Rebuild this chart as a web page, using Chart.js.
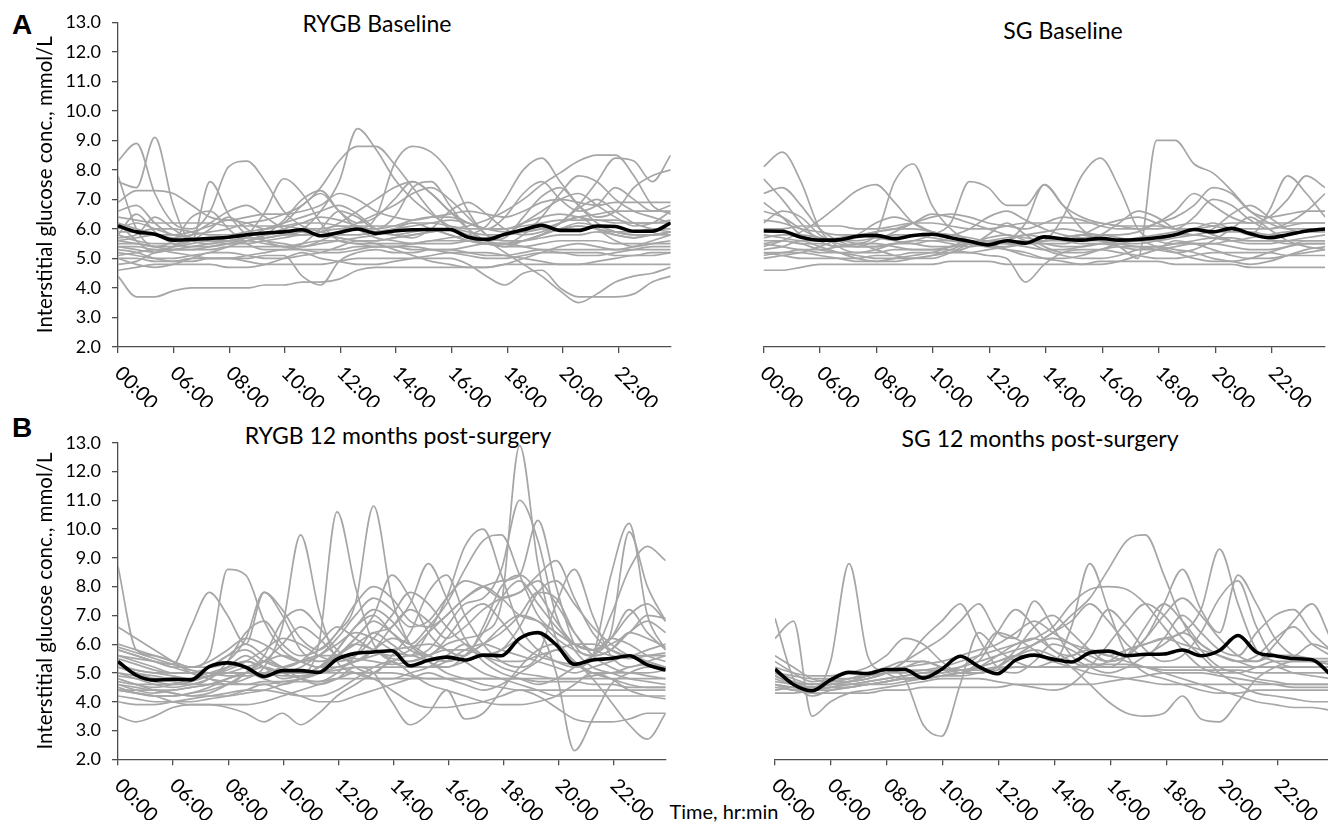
<!DOCTYPE html>
<html>
<head>
<meta charset="utf-8">
<title>Interstitial glucose, RYGB vs SG</title>
<script src="https://cdn.jsdelivr.net/npm/chart.js@4.4.1/dist/chart.umd.min.js"></script>
<style>
    body { margin: 0; width: 1328px; height: 822px; overflow: hidden; background: #fff; position: relative; font-family: Lato, sans-serif; color: #000; }
    canvas { position: absolute; }
    .txt { position: absolute; white-space: nowrap; line-height: 1; transform: translate(-50%, -50%); }
    .title { font-size: 23px; }
    .panel-letter { font-family: 'Liberation Sans', Arial, sans-serif; font-weight: bold; font-size: 28px; }
</style>
</head>
<body>
<div class="txt panel-letter" style="left:22px; top:25px">A</div>
<div class="txt panel-letter" style="left:22px; top:428px">B</div>
<div class="txt title" style="left:377px; top:23px">RYGB Baseline</div>
<div class="txt title" style="left:1063px; top:30px">SG Baseline</div>
<div class="txt title" style="left:398px; top:435px">RYGB 12 months post-surgery</div>
<div class="txt title" style="left:1040px; top:438px">SG 12 months post-surgery</div>
<div class="txt" style="left:724px; top:811px; font-size:20px">Time, hr:min</div>

<canvas id="rygbBase" width="680" height="407" style="left:0; top:0"></canvas>
<canvas id="sgBase" width="628" height="407" style="left:700px; top:0"></canvas>
<canvas id="rygbPost" width="680" height="420" style="left:0; top:400px"></canvas>
<canvas id="sgPost" width="632" height="420" style="left:700px; top:400px"></canvas>

<script>
const tickLabels = ['00:00', '06:00', '08:00', '10:00', '12:00', '14:00', '16:00', '18:00', '20:00', '22:00'];
const dayEnd = 9.94;

// A: RYGB baseline
const rygbBaseMean = [6.1,5.9,5.82,5.62,5.64, 5.68,5.72,5.8,5.86,5.9, 5.97,5.77,5.88,6.0,5.85, 5.93,5.97,5.98,5.98,5.72, 5.64,5.82,5.97,6.12,5.95, 5.95,6.1,6.08,5.92,5.92, 6.2];
const rygbBaseSubjects = [
    [5.8,5.6,5.5,5.5,5.6, 5.6,5.7,5.8,5.8,5.9, 6.0,6.6,7.6,9.4,8.7, 7.7,7.0,6.5,6.1,5.9, 5.8,5.8,5.9,6.0,6.0, 6.1,6.0,5.9,5.9,6.0, 6.0],
    [6.2,6.0,5.8,5.7,5.8, 5.9,6.0,6.2,6.3,6.5, 6.8,7.4,8.3,8.8,8.8, 8.2,7.4,6.6,6.0,5.7, 5.5,5.4,5.6,5.8,6.0, 6.2,6.1,5.9,5.8,5.8, 5.9],
    [5.6,5.5,5.4,5.4,5.5, 5.6,5.6,5.7,5.7,5.8, 5.8,5.9,6.0,6.0,6.4, 8.2,8.8,8.6,7.9,6.6, 5.8,5.6,5.6,5.7,5.8, 5.8,5.9,5.8,5.7,5.8, 5.8],
    [8.3,8.9,7.2,6.2,6.0, 6.6,8.1,8.3,7.6,6.6, 6.1,5.9,5.8,5.8,5.9, 6.0,6.1,6.2,6.3,6.2, 6.0,6.0,6.2,6.4,6.5, 6.4,6.3,6.3,6.2,6.2, 6.3],
    [7.6,7.4,9.1,6.8,5.6, 7.6,6.5,5.8,5.6,5.5, 5.4,5.5,5.6,5.7,5.8, 6.0,6.2,6.0,5.8,5.6, 5.5,5.5,5.6,5.8,6.0, 6.1,6.0,5.8,5.7,5.8, 5.9],
    [5.4,5.3,5.2,5.3,5.4, 5.5,5.6,5.8,6.6,7.7, 7.2,6.2,5.6,5.5,5.4, 5.4,5.5,5.6,5.7,5.8, 6.1,7.0,8.0,8.4,7.6, 6.8,6.2,5.9,5.8,5.8, 5.9],
    [4.4,3.7,3.7,3.9,4.0, 4.0,4.0,4.0,4.1,4.1, 4.2,4.2,4.3,4.6,4.7, 4.7,4.7,4.7,4.7,4.7, 4.7,4.8,4.8,4.8,4.8, 4.8,4.8,4.8,4.8,4.8, 4.8],
    [5.3,5.2,5.0,4.9,4.9, 5.0,5.0,5.0,5.1,5.1, 4.4,4.1,4.9,5.2,5.3, 5.2,5.2,5.3,5.3,5.2, 5.1,5.1,5.2,5.3,5.2, 5.2,5.2,5.1,5.1,5.2, 5.2],
    [5.6,5.7,5.8,5.8,5.7, 5.6,5.5,5.6,5.7,5.8, 5.9,5.8,5.7,5.6,5.6, 5.7,5.8,5.9,6.0,5.8, 5.6,5.2,4.8,4.4,3.9, 3.5,3.8,4.2,4.4,4.5, 4.7],
    [5.0,5.0,4.9,4.9,5.0, 5.0,5.0,4.9,4.8,4.8, 4.8,4.8,4.9,5.0,5.0, 5.0,5.0,5.0,5.0,4.8, 4.4,4.1,4.5,4.6,4.0, 3.7,3.7,3.7,3.8,4.2, 4.4],
    [5.5,5.5,5.4,5.3,5.3, 5.4,5.5,5.5,5.6,5.7, 5.8,5.8,5.7,5.6,5.6, 5.7,5.8,5.9,6.0,6.1, 6.3,6.6,7.0,7.5,7.9, 8.3,8.5,8.5,7.8,6.8, 6.5],
    [6.0,6.2,6.0,5.8,5.7, 5.6,5.6,5.6,5.8,6.0, 6.2,6.4,6.3,6.1,5.9, 5.8,5.9,6.0,5.8,5.6, 5.5,5.5,5.6,5.8,6.2, 6.8,7.6,8.4,8.3,7.6, 8.5],
    [6.9,7.3,7.3,7.2,6.8, 6.4,6.3,6.4,6.5,6.5, 6.6,6.8,7.2,7.0,6.6, 6.4,6.3,6.4,6.5,6.6, 6.5,6.4,6.6,6.9,7.0, 6.9,6.8,6.9,6.9,6.9, 6.9],
    [5.2,5.1,5.0,5.0,5.1, 5.2,5.4,5.6,5.8,6.3, 7.0,7.3,6.6,6.0,5.7, 5.6,5.5,5.5,5.5,5.6, 5.7,5.8,6.2,6.6,7.0, 7.2,6.8,6.4,6.1,6.2, 6.6],
    [5.1,5.2,5.3,5.2,5.1, 5.0,5.0,5.1,5.2,5.3, 5.3,5.3,5.3,5.4,5.4, 5.4,5.3,5.3,5.3,5.4, 5.5,5.5,5.4,5.3,5.3, 5.3,5.3,5.3,5.3,5.3, 5.3],
    [4.8,4.9,5.2,5.4,5.6, 6.0,6.4,6.0,5.6,5.4, 5.4,5.6,5.9,6.2,6.5, 6.8,7.2,7.4,7.0,6.4, 5.8,5.6,5.6,5.8,6.2, 6.4,6.0,5.6,5.4,5.5, 5.6],
    [7.8,6.0,5.4,5.6,6.4, 6.6,6.0,5.5,5.3,5.3, 5.5,6.0,6.6,6.4,6.0, 6.4,7.4,7.6,6.8,6.0, 5.6,5.7,6.4,7.1,7.4, 6.8,6.4,6.6,7.4,7.8, 8.0],
    [6.4,6.3,6.2,6.2,6.2, 6.2,6.1,6.1,6.1,6.1, 6.0,6.0,6.1,6.1,6.1, 6.1,6.2,6.2,6.1,6.0, 6.0,6.0,6.1,6.2,6.3, 6.3,6.3,6.2,6.2,6.2, 6.2],
    [4.6,4.7,4.8,4.8,4.8, 4.8,4.7,4.7,4.8,5.0, 5.2,5.0,4.9,4.8,4.8, 4.9,5.0,5.1,5.2,5.2, 5.2,5.1,5.0,4.9,4.8, 4.8,4.9,5.0,5.1,5.1, 5.2],
    [5.8,6.5,5.9,5.5,5.4, 5.4,5.5,5.7,6.0,6.2, 6.4,6.6,6.8,6.5,6.0, 5.8,5.7,6.0,6.6,6.9, 6.5,6.0,5.8,5.9,6.2, 6.7,7.0,6.6,6.2,6.0, 5.9],
    [5.9,5.9,6.0,6.0,5.9, 5.8,5.8,5.9,6.0,6.1, 6.2,6.2,6.1,6.0,6.0, 6.1,6.3,6.4,6.4,6.2, 6.0,5.9,5.9,6.0,6.2, 6.4,6.5,6.6,6.6,6.6, 6.6],
    [5.4,5.4,5.3,5.3,5.3, 5.3,5.4,5.4,5.4,5.4, 5.5,5.6,5.6,5.5,5.5, 5.5,5.5,5.6,5.6,5.6, 5.5,5.4,5.4,5.5,5.6, 5.6,5.6,5.5,5.5,5.5, 5.5],
    [6.6,6.8,6.2,5.8,5.9, 6.1,6.3,6.2,6.0,6.2, 6.8,7.2,6.6,6.2,6.4, 7.0,7.6,7.2,6.6,6.2, 6.0,6.4,7.2,7.6,7.0, 6.6,6.8,7.4,7.0,6.6, 6.8],
    [5.0,4.8,4.7,4.8,5.0, 5.2,5.2,5.1,5.0,5.0, 5.1,5.2,5.4,5.6,5.5, 5.3,5.1,4.9,4.8,4.7, 4.7,4.8,5.0,5.2,5.4, 5.5,5.4,5.3,5.4,5.6, 5.8],
    [6.2,5.6,5.2,5.4,5.8, 6.2,6.6,6.8,6.4,6.0, 5.8,5.9,6.2,6.6,7.0, 7.4,7.6,7.2,6.6,6.0, 5.6,5.5,5.8,6.4,7.2, 7.8,7.6,7.0,6.6,6.4, 6.2],
    [5.7,5.8,6.4,6.0,5.6, 5.5,5.6,5.6,5.5,5.4, 5.3,5.2,5.2,5.3,5.4, 5.4,5.4,5.3,5.2,5.1, 5.0,5.0,5.1,5.2,5.2, 5.1,5.1,5.2,5.3,5.4, 5.4]
];

// A: SG baseline
const sgBaseMean = [5.93,5.92,5.72,5.62,5.63, 5.75,5.78,5.67,5.78,5.82, 5.7,5.58,5.46,5.6,5.52, 5.73,5.66,5.62,5.68,5.62, 5.64,5.7,5.8,5.98,5.9, 6.02,5.84,5.7,5.8,5.93, 6.0];
const sgBaseSubjects = [
    [8.1,8.6,7.6,6.0,5.4, 5.2,5.3,5.5,5.6,5.6, 5.5,5.4,5.5,5.6,5.8, 5.7,5.6,5.5,5.5,5.6, 5.7,5.8,5.9,6.0,5.8, 5.6,5.5,5.5,5.6,5.7, 5.8],
    [5.4,5.6,5.9,6.3,6.8, 7.3,7.5,6.9,6.2,5.9, 5.8,5.7,5.6,5.6,5.5, 5.5,5.5,5.6,5.6,5.5, 5.4,5.4,5.5,5.6,5.7, 5.7,5.6,5.6,5.6,5.6, 5.6],
    [7.7,7.0,6.2,5.6,5.4, 5.5,5.8,7.6,8.2,6.8, 6.0,5.6,5.5,5.5,5.6, 5.5,5.4,5.4,5.5,5.6, 5.6,5.7,5.8,5.8,5.7, 5.6,5.7,5.8,5.9,5.9, 6.0],
    [6.2,6.6,6.4,5.8,5.5, 5.4,5.4,5.5,5.6,5.8, 6.2,7.6,7.4,6.8,6.8, 7.5,6.8,6.4,6.2,6.1, 6.0,6.0,6.1,6.2,6.1, 6.0,6.0,6.0,6.1,6.2, 6.2],
    [5.2,5.2,5.3,5.2,5.2, 5.2,5.2,5.3,5.3,5.3, 5.3,5.2,5.3,5.4,5.5, 5.6,6.4,7.8,8.4,7.4, 6.0,5.6,5.5,5.5,5.5, 5.6,5.6,5.6,5.5,5.5, 5.5],
    [5.6,5.6,5.5,5.5,5.4, 5.4,5.4,5.5,5.5,5.6, 5.6,5.5,5.5,5.6,5.6, 5.6,5.7,5.8,5.6,5.4, 5.0,9.0,9.0,8.2,7.9, 7.3,6.6,6.2,6.0,6.0, 6.0],
    [6.9,6.4,5.8,5.6,5.6, 5.7,5.9,6.0,6.0,5.9, 5.7,5.6,5.5,5.6,6.2, 7.5,6.8,6.0,5.6,5.5, 5.5,5.6,5.8,6.0,6.2, 6.0,5.8,6.6,7.8,7.2, 6.4],
    [5.2,5.1,5.0,5.0,5.0, 5.0,5.1,5.1,5.2,5.2, 5.2,5.2,5.1,5.0,4.2, 4.8,5.2,5.3,5.3,5.2, 5.1,5.0,5.0,5.1,5.2, 5.2,5.2,5.2,5.1,5.1, 5.1],
    [4.6,4.6,4.7,4.8,4.8, 4.8,4.8,4.8,4.8,4.8, 4.9,4.9,4.9,4.8,4.8, 4.8,4.8,4.8,4.9,4.9, 4.9,4.9,4.8,4.8,4.8, 4.8,4.7,4.7,4.7,4.7, 4.7],
    [5.8,5.7,5.6,5.6,5.7, 5.8,5.7,5.6,5.5,5.4, 5.4,5.5,5.6,5.7,5.8, 5.9,6.0,5.9,5.8,5.8, 5.9,6.2,6.6,7.2,6.8, 6.4,6.2,6.4,7.0,7.8, 7.4],
    [6.3,6.2,6.0,5.9,5.8, 5.8,5.9,6.0,6.2,6.4, 6.5,6.4,6.2,6.1,6.0, 6.2,6.4,6.3,6.1,6.0, 6.0,6.2,6.4,6.8,7.4, 7.2,6.6,6.4,6.5,6.6, 6.6],
    [5.0,5.1,5.2,5.4,5.6, 5.5,5.3,5.1,5.0,5.0, 5.2,5.5,5.7,5.8,5.6, 5.3,5.1,5.0,5.0,5.1, 5.3,5.4,5.3,5.2,5.0, 4.9,4.8,4.9,5.1,5.3, 5.4],
    [6.0,6.0,6.1,6.1,6.1, 6.0,6.0,6.1,6.2,6.2, 6.1,6.0,6.0,6.1,6.2, 6.2,6.2,6.2,6.2,6.1, 6.1,6.1,6.0,6.0,6.1, 6.2,6.2,6.2,6.2,6.2, 6.2],
    [5.3,5.4,5.6,5.4,5.2, 5.0,4.9,4.9,5.0,5.1, 5.2,5.4,5.8,6.2,5.8, 5.4,5.2,5.2,5.3,5.4, 5.4,5.3,5.2,5.3,5.6, 6.0,6.4,6.0,5.6,5.4, 5.3],
    [7.2,7.4,6.8,6.0,5.6, 5.4,5.6,5.9,6.2,6.5, 6.4,6.2,6.0,5.8,5.7, 5.6,5.6,5.8,6.1,6.3, 6.4,6.2,6.0,6.4,7.0, 6.8,6.3,6.0,6.2,6.6, 7.2],
    [5.5,5.6,5.5,5.3,5.2, 5.1,5.0,5.0,5.0,5.1, 5.3,5.5,5.4,5.3,5.2, 5.0,4.9,4.8,4.8,4.9, 5.1,5.3,5.6,5.5,5.3, 5.1,5.0,5.0,5.1,5.2, 5.3],
    [5.7,5.8,5.8,5.7,5.6, 5.6,5.7,5.8,5.8,5.7, 5.6,5.5,5.4,5.4,5.5, 5.6,5.7,5.8,5.8,5.7, 5.6,5.6,5.7,5.8,5.9, 5.9,5.9,5.8,5.8,5.9, 5.9],
    [5.1,5.2,5.2,5.1,5.0, 4.9,4.9,5.0,5.1,5.2, 5.4,5.6,5.5,5.3,5.1, 5.0,5.0,5.1,5.3,5.5, 5.6,5.4,5.2,5.0,4.9, 4.9,5.0,5.2,5.4,5.6, 5.6],
    [6.6,6.4,6.0,5.7,5.6, 5.8,6.2,6.4,6.2,5.9, 5.8,6.0,6.4,6.6,6.3, 6.0,5.8,5.7,5.8,6.2, 6.6,6.4,6.0,5.8,6.0, 6.5,6.8,6.4,6.0,5.9, 6.0],
    [5.5,5.4,5.3,5.3,5.4, 5.5,5.5,5.4,5.3,5.3, 5.4,5.5,5.6,5.5,5.4, 5.3,5.3,5.4,5.5,5.4, 5.3,5.3,5.4,5.5,5.5, 5.4,5.3,5.3,5.4,5.5, 5.5]
];

// B: RYGB 12 months post-surgery
const rygbPostMean = [5.4,4.92,4.75,4.78,4.76, 5.22,5.35,5.2,4.88,5.08, 5.08,5.02,5.48,5.68,5.73, 5.77,5.25,5.44,5.55,5.45, 5.62,5.6,6.2,6.4,5.98, 5.3,5.45,5.5,5.6,5.28, 5.1];
const rygbPostSubjects = [
    [5.0,4.8,4.6,4.5,4.6, 4.8,5.2,5.6,5.2,4.8, 4.9,5.0,5.6,6.0,5.8, 5.5,5.4,5.6,6.0,6.2, 6.4,7.4,12.9,8.8,6.2, 5.4,5.0,5.0,5.2,5.3, 5.2],
    [4.6,4.4,4.3,4.4,4.5, 4.6,4.8,5.0,5.2,5.0, 4.8,4.7,5.0,5.6,6.4, 6.0,5.6,5.8,6.6,7.4, 7.6,8.6,11.0,9.6,7.0, 5.8,5.2,5.0,4.8,4.7, 4.6],
    [5.6,5.4,5.2,5.0,5.0, 5.2,5.6,5.8,5.4,5.2, 5.4,6.0,6.6,6.2,5.8, 5.6,5.8,6.4,7.0,7.6, 8.0,8.2,8.4,10.3,8.0, 6.0,5.6,5.8,6.4,6.8, 6.4],
    [4.8,4.6,4.5,4.6,4.8, 5.0,5.2,5.4,5.2,5.0, 5.0,6.0,10.6,8.0,6.0, 5.4,5.2,5.2,5.4,5.8, 6.0,5.8,5.6,5.4,5.2, 5.0,5.2,5.4,5.6,5.4, 5.2],
    [5.2,5.0,4.8,4.7,4.6, 4.8,5.4,6.4,6.8,6.0, 5.6,5.8,6.4,7.4,10.8, 7.6,6.0,5.6,5.4,5.6, 6.0,6.6,7.0,6.8,6.2, 5.8,5.6,5.8,6.4,6.2, 5.9],
    [4.5,4.3,4.2,4.2,4.3, 4.4,4.6,4.8,5.2,6.6, 9.8,7.2,5.4,5.0,4.8, 4.8,5.0,5.2,5.6,6.0, 5.6,5.2,5.0,4.9,4.8, 4.8,4.9,5.0,5.0,4.9, 4.8],
    [4.9,4.8,4.7,4.6,4.7, 4.9,5.2,5.4,5.2,5.0, 5.2,5.6,6.0,6.4,6.2, 5.8,5.6,6.4,7.6,9.4, 10.0,8.4,6.6,5.8,5.4, 5.2,5.6,8.4,10.2,7.0, 5.8],
    [5.3,5.1,5.0,4.9,4.8, 4.9,5.0,5.2,5.4,5.6, 5.4,5.2,5.6,6.2,6.8, 6.4,6.0,6.6,7.4,8.6, 9.6,9.8,8.4,7.0,6.4, 6.0,5.8,5.6,5.5,5.6, 5.7],
    [5.8,5.6,5.4,5.2,5.2, 5.4,5.8,6.2,6.0,5.6, 5.4,5.6,6.2,7.0,7.6, 7.2,6.6,6.8,7.6,8.2, 8.0,7.6,7.8,8.2,7.4, 6.4,5.8,7.0,8.6,9.4, 8.9],
    [4.4,4.3,4.2,4.2,4.3, 4.5,4.8,5.0,4.8,4.6, 4.8,5.2,5.6,6.0,6.4, 6.6,7.4,8.8,7.6,6.2, 5.4,5.0,4.8,4.6,4.8, 5.2,5.6,6.4,9.9,8.0, 6.8],
    [4.6,4.5,4.4,4.4,4.5, 4.6,4.8,5.0,5.4,6.0, 6.6,6.2,5.6,5.4,5.8, 6.6,7.2,6.8,6.2,6.6, 7.2,7.6,7.8,8.4,8.9, 7.6,6.4,5.8,5.6,5.8, 6.0],
    [5.0,4.9,4.8,4.8,4.8, 4.9,5.0,5.0,5.0,4.9, 4.9,5.0,5.1,5.2,5.2, 5.2,5.2,5.2,5.2,5.4, 5.6,5.8,6.2,6.4,5.0, 2.3,3.4,4.6,5.0,5.2, 5.2],
    [4.2,4.1,4.0,4.0,4.0, 4.1,4.2,4.4,4.6,4.4, 4.2,4.0,4.0,4.2,4.4, 4.6,4.8,5.0,4.8,4.6, 4.4,4.6,5.0,5.4,5.8, 5.4,4.8,4.0,3.2,2.7, 3.6],
    [4.8,4.6,4.4,4.3,4.2, 4.3,4.6,5.0,5.4,5.2, 4.8,4.6,4.8,5.2,5.0, 4.0,3.2,3.6,4.4,3.4, 3.6,4.4,5.2,5.8,6.0, 5.4,5.0,4.8,4.6,4.5, 4.5],
    [4.4,4.3,4.2,4.0,3.9, 3.9,3.8,3.6,3.3,3.6, 3.2,3.6,4.2,4.6,5.0, 5.4,5.6,5.4,5.0,4.8, 4.6,4.5,4.4,4.4,4.4, 4.4,4.4,4.4,4.4,4.4, 4.4],
    [3.5,3.3,3.5,3.8,3.9, 3.9,3.9,3.9,4.0,4.2, 4.4,4.6,4.8,5.0,4.8, 4.4,4.0,3.8,3.8,3.9, 4.0,4.2,4.4,4.2,3.8, 3.4,3.3,3.3,3.4,3.6, 3.6],
    [8.7,5.8,5.6,5.4,5.2, 5.2,5.4,6.2,7.8,7.2, 6.2,5.8,6.4,7.4,8.0, 7.6,6.8,6.6,7.0,7.6, 8.0,7.6,7.0,6.8,6.4, 6.0,5.8,6.0,6.4,7.0, 6.9],
    [6.0,5.8,5.6,5.4,5.2, 5.6,8.6,8.4,6.8,5.8, 5.4,5.2,5.2,5.4,5.8, 6.2,6.0,5.6,5.4,5.6, 6.0,6.4,7.0,7.8,7.6, 6.4,5.6,5.2,5.0,5.0, 5.1],
    [5.6,5.5,5.4,5.3,6.6, 7.8,7.0,6.0,7.8,7.0, 5.8,5.4,5.6,6.2,7.0, 8.4,7.6,6.4,5.8,5.6, 6.6,8.0,8.4,7.8,6.8, 6.0,5.8,6.2,7.2,6.4, 5.8],
    [5.2,5.1,5.0,5.0,5.0, 5.0,5.0,5.0,5.0,5.0, 5.0,5.0,5.0,5.0,5.0, 5.0,4.9,4.8,4.8,4.8, 4.8,4.8,4.8,4.8,4.8, 4.8,4.8,4.8,4.8,4.8, 4.8],
    [5.8,5.6,5.4,5.2,5.0, 4.8,4.7,4.6,4.6,4.7, 4.8,5.0,5.8,6.6,7.2, 6.8,6.0,5.4,5.2,5.6, 6.4,7.6,8.2,7.4,6.6, 6.0,5.8,6.2,7.0,7.4, 6.8],
    [4.4,4.4,4.4,4.3,4.2, 4.2,4.2,4.3,4.4,4.6, 4.8,5.0,5.2,5.4,5.6, 5.8,5.9,6.0,5.8,5.4, 5.0,4.8,4.6,4.4,4.2, 4.2,4.2,4.2,4.2,4.2, 4.2],
    [6.6,6.2,5.8,5.4,5.0, 4.8,4.6,5.0,5.6,6.8, 7.2,6.6,5.8,5.2,5.0, 5.6,6.4,7.8,8.4,7.0, 6.0,5.4,5.2,5.6,7.4, 8.6,7.0,5.6,5.2,5.4, 5.6],
    [4.7,4.6,4.6,4.6,4.6, 4.6,4.6,4.6,4.7,4.7, 4.7,4.7,4.8,4.8,4.8, 4.8,4.8,4.8,4.8,4.8, 4.8,4.8,4.8,4.7,4.7, 4.7,4.6,4.6,4.5,4.5, 4.5],
    [5.5,5.3,5.1,5.0,5.0, 5.2,5.6,6.0,5.6,5.2, 5.0,5.2,5.8,6.6,7.0, 6.4,5.8,5.6,6.2,7.0, 7.4,6.8,6.0,5.6,5.4, 5.3,5.6,6.2,6.0,5.6, 5.4],
    [4.0,3.9,3.9,4.0,4.1, 4.2,4.3,4.4,4.4,4.3, 4.2,4.2,4.4,4.8,5.2, 5.4,5.0,4.6,4.4,4.2, 4.0,3.9,3.9,4.0,4.2, 4.6,5.0,4.8,4.4,4.2, 4.1],
    [5.2,5.0,4.9,4.8,4.8, 4.9,5.1,5.4,5.8,6.2, 6.0,5.6,5.4,5.6,6.2, 7.0,7.8,7.4,6.6,6.0, 5.6,5.8,6.6,7.8,8.2, 7.4,6.6,6.0,5.6,5.4, 5.2],
    [5.9,5.7,5.5,5.3,5.1, 5.0,4.9,4.9,5.0,5.2, 5.4,5.6,5.6,5.5,5.4, 5.3,5.4,5.6,5.8,5.8, 5.6,5.4,5.4,5.6,5.8, 6.0,6.0,5.8,5.6,5.6, 5.6]
];

// B: SG 12 months post-surgery
const sgPostMean = [5.13,4.6,4.38,4.76,5.02, 4.98,5.12,5.12,4.82,5.13, 5.58,5.22,4.97,5.45,5.62, 5.48,5.38,5.7,5.76,5.6, 5.65,5.66,5.8,5.6,5.78, 6.3,5.72,5.6,5.5,5.46, 4.95];
const sgPostSubjects = [
    [4.9,4.6,4.4,5.4,8.8, 5.6,5.0,4.8,4.8,4.9, 5.0,5.0,5.1,5.2,5.2, 5.2,5.2,5.3,5.3,5.3, 5.2,5.2,5.2,5.2,5.2, 5.2,5.2,5.2,5.2,5.2, 5.2],
    [4.6,4.4,4.5,4.6,4.7, 4.9,5.1,4.8,3.2,2.8, 4.6,6.4,5.8,5.4,5.2, 5.4,5.6,5.8,5.6,5.4, 5.2,5.0,4.8,4.6,4.4, 4.2,4.0,3.9,3.8,3.8, 3.7],
    [5.0,4.8,4.6,4.6,4.7, 4.8,5.0,5.4,6.2,6.8, 7.4,6.2,5.2,5.0,5.4, 6.0,5.8,5.4,5.2,5.6, 6.6,7.4,6.8,6.0,5.6, 5.4,5.6,6.2,6.6,6.0, 5.6],
    [4.4,4.5,4.5,4.6,4.7, 4.8,5.0,5.4,5.8,6.2, 6.8,7.4,6.4,6.2,7.5, 6.6,5.6,5.2,5.0,5.2, 5.6,6.0,6.4,6.0,5.6, 5.4,5.4,5.6,5.6,5.5, 5.5],
    [4.3,4.3,4.4,4.5,4.6, 4.6,4.7,4.8,4.9,5.0, 5.2,5.6,6.4,6.2,5.8, 5.4,6.6,8.8,7.2,5.6, 5.0,4.8,4.6,4.4,4.3, 4.3,4.4,4.4,4.4,4.4, 4.4],
    [4.6,4.5,4.5,4.6,4.6, 4.7,4.8,4.9,5.0,5.1, 5.2,5.4,5.6,5.8,6.0, 6.4,7.0,7.6,8.6,9.6, 9.8,8.4,6.8,5.8,5.2, 5.0,4.8,4.7,4.6,4.6, 4.6],
    [4.8,4.6,4.6,4.7,4.8, 4.9,5.0,5.0,5.1,5.2, 5.4,5.6,5.8,6.0,6.2, 6.6,7.4,7.9,8.0,7.9, 7.4,6.6,5.8,5.2,5.0, 5.0,5.2,5.4,5.4,5.4, 5.4],
    [5.0,4.7,4.6,4.7,4.8, 5.0,5.2,5.4,5.4,5.2, 5.0,5.2,5.6,6.0,6.2, 5.8,5.4,5.2,5.4,5.8, 6.0,6.2,6.4,7.2,9.3, 7.4,5.8,5.4,5.2,5.2, 5.2],
    [5.2,5.0,4.9,4.9,5.0, 5.0,5.1,5.2,5.3,5.4, 5.6,5.8,6.0,6.4,6.8, 6.4,6.0,5.6,5.4,5.6, 6.2,7.4,8.6,7.2,6.4, 8.4,7.4,6.2,5.6,5.4, 5.3],
    [4.6,4.5,4.4,4.4,4.5, 4.6,4.7,4.8,4.8,4.9, 5.0,5.0,5.2,5.8,6.6, 7.0,6.4,5.8,5.4,5.6, 6.2,7.0,7.6,7.0,6.2, 5.6,5.4,6.0,6.8,7.4, 6.2],
    [4.9,4.6,4.4,4.5,4.6, 4.7,4.8,4.9,5.0,5.0, 5.1,5.2,5.4,5.6,5.8, 5.6,5.2,4.6,4.0,3.6, 3.5,3.6,4.2,3.4,3.3, 4.0,4.8,5.2,5.4,5.4, 5.3],
    [6.9,4.8,4.2,4.4,4.5, 4.6,4.7,4.8,4.8,4.9, 4.9,5.0,5.2,5.6,6.0, 6.4,6.8,7.4,6.8,6.0, 5.6,6.2,7.0,6.4,5.8, 5.6,6.4,7.0,7.2,6.4, 5.8],
    [6.2,6.8,3.5,4.0,4.3, 4.4,4.5,4.6,4.7,4.8, 4.8,4.8,4.7,4.6,4.5, 4.4,4.6,5.2,6.0,6.8, 7.4,7.0,6.2,5.6,5.0, 4.6,4.3,4.2,4.1,4.0, 4.0],
    [4.5,4.4,4.3,4.3,4.3, 4.3,4.4,4.4,4.5,4.5, 4.5,4.5,4.5,4.6,4.6, 4.6,4.6,4.6,4.7,4.8, 4.9,5.0,5.0,5.0,4.9, 4.8,4.7,4.6,4.5,4.5, 4.5],
    [5.4,5.0,4.7,4.8,5.0, 5.2,5.6,6.2,6.0,5.4, 5.0,5.4,6.4,7.2,6.6, 5.8,5.6,6.2,7.2,6.6, 5.8,5.4,5.6,6.4,7.6, 8.2,6.6,5.6,5.6,6.0, 5.8],
    [5.0,4.9,4.8,4.8,4.8, 4.9,5.0,5.1,5.1,5.1, 5.1,5.1,5.2,5.2,5.2, 5.2,5.2,5.2,5.2,5.2, 5.2,5.1,5.1,5.1,5.1, 5.1,5.0,5.0,5.0,5.0, 5.0],
    [4.7,4.6,4.5,4.5,4.5, 4.6,4.6,4.7,4.8,4.9, 5.0,5.2,5.4,5.6,5.6, 5.4,5.2,5.0,4.9,4.8, 4.7,4.6,4.6,4.6,4.6, 4.6,4.6,4.6,4.6,4.6, 4.6],
    [5.6,5.2,4.8,4.7,4.7, 4.8,5.0,5.2,5.4,5.2, 5.0,5.0,5.2,5.6,6.0, 6.2,6.0,5.8,5.6,5.8, 6.0,6.2,6.0,5.8,5.6, 5.4,5.2,5.2,5.0,4.9, 4.8]
];

const yTitle = 'Interstitial glucose conc., mmol/L';
const axisColor = '#4d4d4d';
const subjectColor = '#a6a6a6';

function toPoints(values) {
    const step = dayEnd / (values.length - 1);
    return values.map((v, i) => ({ x: i * step, y: v }));
}

// x labels run down to the right, which the built-in tick rotation can't do
const slantedTicks = {
    id: 'slantedTicks',
    afterDraw(chart) {
        const xs = chart.scales.x;
        const ctx = chart.ctx;
        ctx.save();
        ctx.font = '20px Lato';
        ctx.fillStyle = '#000';
        ctx.textAlign = 'left';
        ctx.textBaseline = 'middle';
        tickLabels.forEach((label, k) => {
            ctx.save();
            ctx.translate(xs.getPixelForValue(k), xs.top + 23);
            ctx.rotate(Math.PI / 4);
            ctx.fillText(label, 0, 0);
            ctx.restore();
        });
        ctx.restore();
    }
};

function drawPanel(id, mean, subjects, box) {
    const ctx = document.getElementById(id).getContext('2d');
    const datasets = [{ data: toPoints(mean), borderColor: '#000', borderWidth: 3.6, order: 0 }];
    subjects.forEach(s => {
        datasets.push({ data: toPoints(s), borderColor: subjectColor, borderWidth: 1.7, order: 1 });
    });

    return new Chart(ctx, {
        type: 'line',
        data: { datasets: datasets },
        options: {
            responsive: false,
            animation: false,
            events: [],
            layout: { padding: box.padding },
            elements: {
                point: { radius: 0 },
                line: { tension: 0.4, cubicInterpolationMode: 'monotone', fill: false }
            },
            scales: {
                x: {
                    type: 'linear',
                    min: 0,
                    max: dayEnd,
                    ticks: { stepSize: 1, display: false, includeBounds: false },
                    grid: { drawOnChartArea: false, drawTicks: true, tickLength: 6, color: axisColor, lineWidth: 1.3 },
                    border: { display: true, color: axisColor, width: 1.3 },
                    afterFit: s => { s.height = box.xHeight; }
                },
                y: {
                    display: box.showY,
                    min: 2,
                    max: 13,
                    ticks: {
                        stepSize: 1,
                        padding: 11,
                        color: '#000',
                        font: { family: 'Lato', size: 18 },
                        callback: v => v.toFixed(1)
                    },
                    grid: { drawOnChartArea: false, drawTicks: true, tickLength: 6, color: axisColor, lineWidth: 1.3 },
                    border: { display: true, color: axisColor, width: 1.3 },
                    title: {
                        display: true,
                        text: yTitle,
                        color: '#000',
                        font: { family: 'Lato', size: 20.5 },
                        padding: { top: 33, bottom: 0 }
                    },
                    afterFit: s => { if (box.showY) s.width = 118; }
                }
            },
            plugins: { legend: { display: false }, tooltip: { enabled: false } }
        },
        plugins: [slantedTicks]
    });
}

function drawAll() {
    drawPanel('rygbBase', rygbBaseMean, rygbBaseSubjects,
        { showY: true, xHeight: 60, padding: { left: 0, top: 22.3, right: 9.3, bottom: 0 } });
    drawPanel('sgBase', sgBaseMean, sgBaseSubjects,
        { showY: false, xHeight: 60, padding: { left: 63.5, top: 22.3, right: 2.9, bottom: 0 } });
    drawPanel('rygbPost', rygbPostMean, rygbPostSubjects,
        { showY: true, xHeight: 60.7, padding: { left: 0, top: 42.7, right: 14.3, bottom: 0 } });
    drawPanel('sgPost', sgPostMean, sgPostSubjects,
        { showY: false, xHeight: 60.7, padding: { left: 75, top: 42.7, right: 1.4, bottom: 0 } });
}

Promise.all([
    document.fonts.load('18px Lato'),
    document.fonts.load('bold 28px "Liberation Sans"')
]).then(drawAll, drawAll);
</script>
</body>
</html>
